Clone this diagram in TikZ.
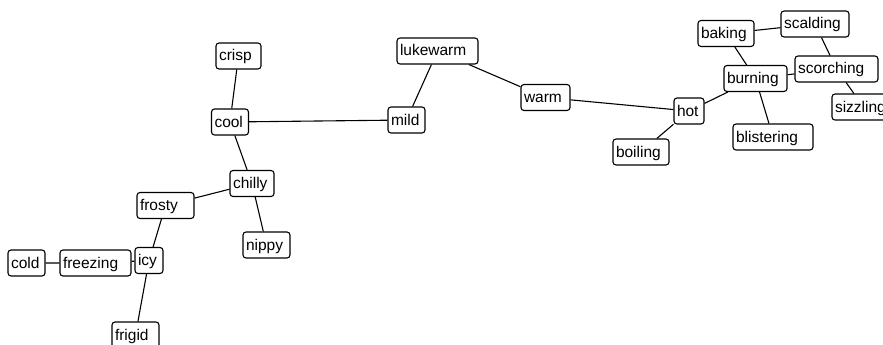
\documentclass[tikz,border=0pt]{standalone}
\usepackage{fontspec}
\setmainfont{Liberation Sans}
\begin{document}
\begin{tikzpicture}[x=1pt,y=-1pt,
  word/.style={draw=black, line width=1.1pt, rounded corners=3pt, fill=white,
    rectangle, inner xsep=3pt, inner ysep=0pt, minimum height=26pt,
    text height=12pt, text depth=2pt, align=left,
    font=\fontsize{15.5pt}{18pt}\selectfont},
  link/.style={draw=black, line width=1.1pt}]
\clip (0,0) rectangle (883,345);
\fill[white] (0,0) rectangle (883,345);

% cold end of the scale
\node[word, text width=31pt] (cold)     at (26.5,263)  {cold};
\node[word, text width=65pt] (freezing) at (95.5,263)  {freezing};
\node[word, text width=22pt] (icy)      at (149,260.5) {icy};
\node[word, text width=51pt] (frosty)   at (165.5,205.5) {frosty};
\node[word, text width=41pt] (frigid)   at (135.5,335) {frigid};
\node[word, text width=38pt] (chilly)   at (252,183.5) {chilly};
\node[word, text width=41pt] (nippy)    at (266.5,245) {nippy};
\node[word, text width=31pt] (cool)     at (230,122)   {cool};
\node[word, text width=39pt] (crisp)    at (238.5,56)  {crisp};

% moderate words
\node[word, text width=31pt] (mild)     at (406.5,120) {mild};
\node[word, text width=75pt] (lukewarm) at (437.5,51)  {lukewarm};
\node[word, text width=43pt] (warm)     at (545.5,97.5) {warm};

% hot end of the scale
\node[word, text width=24pt] (hot)        at (689,111)   {hot};
\node[word, text width=50pt] (boiling)    at (641,152)   {boiling};
\node[word, text width=57pt] (burning)    at (755.5,78.5) {burning};
\node[word, text width=50pt] (baking)     at (726,33.5)  {baking};
\node[word, text width=62pt] (scalding)   at (815,24)    {scalding};
\node[word, text width=77pt] (scorching)  at (836.5,69)  {scorching};
\node[word, text width=57pt] (sizzling)   at (863.5,107) {sizzling};
\node[word, text width=74pt] (blistering) at (773,137)   {blistering};

% links between related words
\path[link]
  (cold) -- (freezing)
  (freezing) -- (icy)
  (icy) -- (frosty)
  (icy) -- (frigid)
  (frosty) -- (chilly)
  (chilly) -- (nippy)
  (chilly) -- (cool)
  (cool) -- (crisp)
  (cool) -- (mild)
  (mild) -- (lukewarm)
  (lukewarm) -- (warm)
  (warm) -- (hot)
  (hot) -- (boiling)
  (hot) -- (burning)
  (burning) -- (baking)
  (burning) -- (blistering)
  (burning) -- (scorching)
  (baking) -- (scalding)
  (scalding) -- (scorching)
  (scorching) -- (sizzling);
\end{tikzpicture}
\end{document}
